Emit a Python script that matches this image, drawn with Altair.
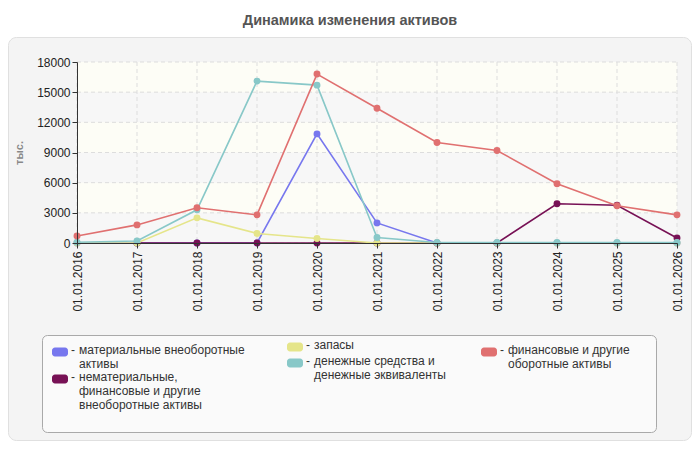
import altair as alt
import pandas as pd

# ---------------- data ----------------
dates = ["01.01.2016", "01.01.2017", "01.01.2018", "01.01.2019", "01.01.2020",
         "01.01.2021", "01.01.2022", "01.01.2023", "01.01.2024", "01.01.2025",
         "01.01.2026"]

names = [
    "материальные внеоборотные активы",
    "нематериальные, финансовые и другие внеоборотные активы",
    "запасы",
    "денежные средства и денежные эквиваленты",
    "финансовые и другие оборотные активы",
]
legend_labels = [
    "материальные внеоборотные\nактивы",
    "нематериальные,\nфинансовые и другие\nвнеоборотные активы",
    "запасы",
    "денежные средства и\nденежные эквиваленты",
    "финансовые и другие\nоборотные активы",
]
colors = ["#7777ee", "#771155", "#e5e58a", "#88c8c8", "#e07070"]

s_material = [0, 0, 0, 0, 10850, 2000, 0, 0, 0, 0, 0]
s_intangible = [None, 0, 0, 0, 0, 0, 0, 0, 3900, 3750, 500]
s_stock = [0, 0, 2500, 950, 450, 0, 0, 0, 0, 0, 0]
s_cash = [80, 200, 3300, 16100, 15700, 550, 50, 50, 50, 50, 50]
s_fin = [700, 1800, 3500, 2800, 16800, 13400, 10000, 9200, 5900, 3700, 2800]
series_values = [s_material, s_intangible, s_stock, s_cash, s_fin]

y_ticks = [0, 3000, 6000, 9000, 12000, 15000, 18000]

# ---------------- layout ----------------
W, H = 600, 181
FONT = "Liberation Sans"
legend_col_x = [-25, 210, 404]
legend_item_col = [0, 0, 1, 1, 2]
legend_item_y = [290, 317, 285, 301, 290]

one = pd.DataFrame({"a": [0]})

x_axis = alt.Axis(labelAngle=270, labelAlign="right", labelBaseline="middle",
                  labelPadding=3, tickSize=5, grid=False, title=None,
                  domainColor="#333333", tickColor="#333333",
                  labelColor="#222222", labelFontSize=12, labelFont=FONT,
                  zindex=1)
y_axis = alt.Axis(values=y_ticks, format="d", tickSize=5, labelPadding=2,
                  grid=False, title="тыс.", titleColor="#888888",
                  titleFontSize=11, titleFont=FONT, titleFontWeight="bold",
                  titlePadding=12, domainColor="#333333", tickColor="#333333",
                  labelColor="#222222", labelFontSize=12, labelFont=FONT,
                  zindex=1)
x_scale = alt.Scale(type="point", domain=dates, padding=0)
y_scale = alt.Scale(domain=[0, 18000], nice=False, zero=True)

# background panel
panel = alt.Chart(one).mark_rect(fill="#f4f4f4", stroke="#e0e0e0",
                                 strokeWidth=1, cornerRadius=8).encode(
    x=alt.value(-68.5), x2=alt.value(614.5),
    y=alt.value(-24.5), y2=alt.value(378.5))

title = alt.Chart(one).mark_text(text="Динамика изменения активов", font=FONT,
                                 fontSize=14.5, fontWeight="bold",
                                 color="#555555", align="center",
                                 baseline="middle").encode(
    x=alt.value(273), y=alt.value(-41))

# bands
band_df = pd.DataFrame({"lo": y_ticks[:-1], "hi": y_ticks[1:],
                        "k": [i % 2 for i in range(len(y_ticks) - 1)]})
bands_h = alt.Chart(band_df).transform_filter("datum.k == 0").mark_rect(
    color="#f7f7f7").encode(
    x=alt.value(0), x2=alt.value(W),
    y=alt.Y("lo:Q", scale=y_scale, axis=y_axis), y2="hi:Q")
bands_c = alt.Chart(band_df).transform_filter("datum.k == 1").mark_rect(
    color="#fdfdf6").encode(
    x=alt.value(0), x2=alt.value(W),
    y=alt.Y("lo:Q", scale=y_scale, axis=y_axis), y2="hi:Q")

ygrid = alt.Chart(pd.DataFrame({"v": y_ticks})).mark_rule(
    color="#dddddd", strokeDash=[4, 3], strokeWidth=1).encode(
    y=alt.Y("v:Q", scale=y_scale, axis=y_axis),
    x=alt.value(0), x2=alt.value(W))
xgrid = alt.Chart(pd.DataFrame({"date": dates})).mark_rule(
    color="#dddddd", strokeDash=[4, 3], strokeWidth=1).encode(
    x=alt.X("date:O", scale=x_scale, axis=x_axis),
    y=alt.value(0), y2=alt.value(H))

series_layers = []
for nm, col, vals in zip(names, colors, series_values):
    df = pd.DataFrame({"date": dates, "value": vals, "series": nm})
    base = alt.Chart(df).encode(
        x=alt.X("date:O", scale=x_scale, axis=x_axis),
        y=alt.Y("value:Q", scale=y_scale, axis=y_axis))
    series_layers.append(base.mark_line(color=col, strokeWidth=1.6))
    series_layers.append(base.mark_circle(color=col, size=48, opacity=1))

main = alt.layer(bands_h, bands_c, ygrid, xgrid, *series_layers)

# legend
leg_df = pd.DataFrame({
    "label": legend_labels,
    "color": colors,
    "sx": [legend_col_x[c] for c in legend_item_col],
    "sy": legend_item_y,
})
leg_df["sx2"] = leg_df["sx"] + 16
leg_df["sy1"] = leg_df["sy"] - 4.5
leg_df["sy2"] = leg_df["sy"] + 4.5
leg_df["dx"] = leg_df["sx"] + 19
leg_df["lx"] = leg_df["sx"] + 27
leg_df["ty"] = leg_df["sy"] - 7
leg_df["dash"] = "-"

leg_box = alt.Chart(one).mark_rect(fill="#fafafa", stroke="#a9a9a9",
                                   strokeWidth=1, cornerRadius=5).encode(
    x=alt.value(-34.5), x2=alt.value(579.5),
    y=alt.value(273.5), y2=alt.value(370.5))
leg_sym = alt.Chart(leg_df).mark_rect(cornerRadius=3).encode(
    x=alt.X("sx:Q", scale=None, axis=None), x2="sx2:Q",
    y=alt.Y("sy1:Q", scale=None, axis=None), y2="sy2:Q",
    fill=alt.Fill("color:N", scale=None, legend=None))
leg_dash = alt.Chart(leg_df).mark_text(align="left", baseline="top",
                                       font=FONT, fontSize=12,
                                       color="#333333").encode(
    x=alt.X("dx:Q", scale=None, axis=None),
    y=alt.Y("ty:Q", scale=None, axis=None), text="dash:N")
leg_text = alt.Chart(leg_df).mark_text(align="left", baseline="top",
                                       font=FONT, fontSize=12, lineHeight=14,
                                       lineBreak="\n",
                                       color="#333333").encode(
    x=alt.X("lx:Q", scale=None, axis=None),
    y=alt.Y("ty:Q", scale=None, axis=None), text="label:N")

chart = alt.layer(panel, title, main, leg_box, leg_sym, leg_dash, leg_text).resolve_scale(
    x="independent", y="independent", fill="independent"
).properties(
    width=W, height=H,
    autosize=alt.AutoSizeParams(type="none"),
    padding={"left": 69, "top": 54, "right": 15, "bottom": 199},
    background="white",
).configure_view(stroke=None)

chart.save("out.html", embed_options={"renderer": "svg", "actions": False})
